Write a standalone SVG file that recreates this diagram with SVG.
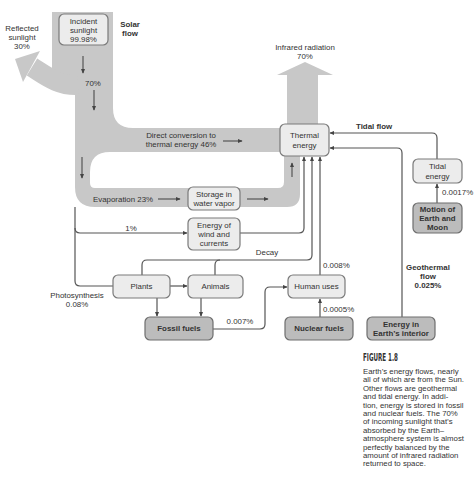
<svg xmlns="http://www.w3.org/2000/svg" width="474" height="496" viewBox="0 0 474 496">
<defs>
<style>
.band{fill:#c8c8c8;stroke:none}
.box{fill:#ececec;stroke:#7a7a7a;stroke-width:1.2}
.dark{fill:#bcbcbc;stroke:#6e6e6e;stroke-width:1.2}
.ln{fill:none;stroke:#555;stroke-width:1.2}
.t{font-family:"Liberation Sans",Arial,sans-serif;font-size:7.9px;fill:#333}
.c{text-anchor:middle}
.b{font-weight:bold}
.cap{font-family:"Liberation Sans",Arial,sans-serif;font-size:7.8px;fill:#333}
</style>
<marker id="ah" viewBox="0 0 8 8" refX="7" refY="4" markerWidth="5" markerHeight="5" orient="auto" markerUnits="userSpaceOnUse">
<path d="M0,0.5 L8,4 L0,7.5 Z" fill="#444"/>
</marker>
</defs>
<rect width="474" height="496" fill="#fff"/>

<g id="flows">
<rect class="band" x="52" y="12" width="61" height="68"/>
<path class="band" d="M75,70 L113,70 L113,108 Q113,128 133,128 L285,128 L285,152 L110,152 Q90,152 90,172 L90,183 Q90,188 95,188 L278,188 Q284,188 284,182 L284,150 L300,150 L300,194 Q300,207 287,207 L95,207 Q75,207 75,187 Z"/>
<path d="M78,85 C58,86 45,75 32,67" fill="none" stroke="#c8c8c8" stroke-width="20"/>
<polygon class="band" points="40,51 23,82 15,59"/>
<rect class="band" x="287" y="74" width="31" height="54"/>
<polygon class="band" points="277,75 333,75 305,62"/>
</g>

<g id="connectors">
<path class="ln" marker-end="url(#ah)" d="M83,56 V73"/>
<path class="ln" marker-end="url(#ah)" d="M94,90 V110"/>
<path class="ln" marker-end="url(#ah)" d="M82,157 V178"/>
<path class="ln" marker-end="url(#ah)" d="M223,141 H242"/>
<path class="ln" marker-end="url(#ah)" d="M158,199 H180"/>
<path class="ln" marker-end="url(#ah)" d="M247,199 H268"/>
<path class="ln" marker-end="url(#ah)" d="M292,177 V163"/>
<path class="ln" d="M75,207 V281 Q75,286 80,286 H113"/>
<path class="ln" marker-end="url(#ah)" d="M75,228 Q75,233 80,233 H187"/>
<path class="ln" marker-end="url(#ah)" d="M240,233 H299 Q304,233 304,228 V157"/>
<path class="ln" marker-end="url(#ah)" d="M142,275 V265 Q142,260 147,260 H307 Q312,260 312,255 V157"/>
<path class="ln" d="M215,275 V265 Q215,260 220,260"/>
<path class="ln" marker-end="url(#ah)" d="M320,275 V157"/>
<path class="ln" marker-end="url(#ah)" d="M437,159 V138 Q437,133 432,133 H330"/>
<path class="ln" marker-end="url(#ah)" d="M402,317 V153 Q402,148 397,148 H330"/>
<path class="ln" marker-end="url(#ah)" d="M437,203 V184"/>
<path class="ln" marker-end="url(#ah)" d="M320,317 V299"/>
<path class="ln" marker-end="url(#ah)" d="M213,329 H260 Q265,329 265,324 V292 Q265,287 270,287 H287"/>
<path class="ln" marker-end="url(#ah)" d="M170,286 H187"/>
<path class="ln" marker-end="url(#ah)" d="M157,298 V316"/>
<path class="ln" marker-end="url(#ah)" d="M201,298 V316"/>
</g>

<g id="incident"><rect class="box" x="59" y="14" width="49" height="31" rx="5"/>
<text class="t c" x="83.5" y="24">Incident</text><text class="t c" x="83.5" y="33">sunlight</text><text class="t c" x="83.5" y="42">99.98%</text></g>
<g id="thermal"><rect class="box" x="280" y="124" width="49" height="32" rx="5"/>
<text class="t c" x="304.5" y="138">Thermal</text><text class="t c" x="304.5" y="148">energy</text></g>
<g id="storage"><rect class="box" x="188" y="187" width="52" height="23" rx="5"/>
<text class="t c" x="214" y="197">Storage in</text><text class="t c" x="214" y="206">water vapor</text></g>
<g id="wind"><rect class="box" x="188" y="218" width="52" height="32" rx="5"/>
<text class="t c" x="214" y="228">Energy of</text><text class="t c" x="214" y="237">wind and</text><text class="t c" x="214" y="246">currents</text></g>
<g id="plants"><rect class="box" x="113" y="275" width="57" height="23" rx="5"/>
<text class="t c" x="141.5" y="289">Plants</text></g>
<g id="animals"><rect class="box" x="188" y="275" width="55" height="23" rx="5"/>
<text class="t c" x="215.5" y="289">Animals</text></g>
<g id="fossil"><rect class="dark" x="145" y="317" width="68" height="23" rx="5"/>
<text class="t c b" x="179" y="331">Fossil fuels</text></g>
<g id="human"><rect class="box" x="288" y="275" width="57" height="23" rx="5"/>
<text class="t c" x="316.5" y="289">Human uses</text></g>
<g id="nuclear"><rect class="dark" x="285" y="317" width="68" height="23" rx="5"/>
<text class="t c b" x="319" y="331">Nuclear fuels</text></g>
<g id="interior"><rect class="dark" x="367" y="317" width="68" height="23" rx="5"/>
<text class="t c b" x="401" y="327">Energy in</text><text class="t c b" x="401" y="336">Earth’s interior</text></g>
<g id="tidal"><rect class="box" x="413" y="159" width="49" height="24" rx="5"/>
<text class="t c" x="437.5" y="169">Tidal</text><text class="t c" x="437.5" y="179">energy</text></g>
<g id="motion"><rect class="dark" x="413" y="203" width="49" height="30" rx="5"/>
<text class="t c b" x="437.5" y="212">Motion of</text><text class="t c b" x="437.5" y="221">Earth and</text><text class="t c b" x="437.5" y="230">Moon</text></g>

<g id="labels">
<text class="t c" x="22" y="31">Reflected</text><text class="t c" x="22" y="40">sunlight</text><text class="t c" x="22" y="49">30%</text>
<text class="t c b" x="130" y="27">Solar</text><text class="t c b" x="130" y="36">flow</text>
<text class="t c" x="305" y="50">Infrared radiation</text><text class="t c" x="305" y="59">70%</text>
<text class="t c" x="93" y="86">70%</text>
<text class="t c" x="181" y="138">Direct conversion to</text><text class="t c" x="181" y="147">thermal energy 46%</text>
<text class="t" x="93" y="202">Evaporation 23%</text>
<text class="t c" x="131" y="231">1%</text>
<text class="t b" x="356" y="129">Tidal flow</text>
<text class="t" x="442" y="195">0.0017%</text>
<text class="t c" x="267" y="255">Decay</text>
<text class="t" x="323" y="268">0.008%</text>
<text class="t" x="323" y="312">0.0005%</text>
<text class="t c b" x="428" y="270">Geothermal</text><text class="t c b" x="428" y="279">flow</text><text class="t c b" x="428" y="288">0.025%</text>
<text class="t c" x="77" y="298">Photosynthesis</text><text class="t c" x="77" y="307">0.08%</text>
<text class="t c" x="240" y="324">0.007%</text>
</g>

<g id="caption">
<text x="363" y="361" font-family="'DejaVu Sans Condensed','Liberation Sans Narrow','Liberation Sans',sans-serif" font-size="10" font-weight="bold" fill="#333" textLength="35" lengthAdjust="spacingAndGlyphs">FIGURE 1.8</text>
<text class="cap" x="363" y="374">Earth’s energy flows, nearly</text>
<text class="cap" x="363" y="382.4">all of which are from the Sun.</text>
<text class="cap" x="363" y="390.8">Other flows are geothermal</text>
<text class="cap" x="363" y="399.2">and tidal energy. In addi-</text>
<text class="cap" x="363" y="407.6">tion, energy is stored in fossil</text>
<text class="cap" x="363" y="416">and nuclear fuels. The 70%</text>
<text class="cap" x="363" y="424.4">of incoming sunlight that’s</text>
<text class="cap" x="363" y="432.8">absorbed by the Earth–</text>
<text class="cap" x="363" y="441.2">atmosphere system is almost</text>
<text class="cap" x="363" y="449.6">perfectly balanced by the</text>
<text class="cap" x="363" y="458">amount of infrared radiation</text>
<text class="cap" x="363" y="466.4">returned to space.</text>
</g>
</svg>
